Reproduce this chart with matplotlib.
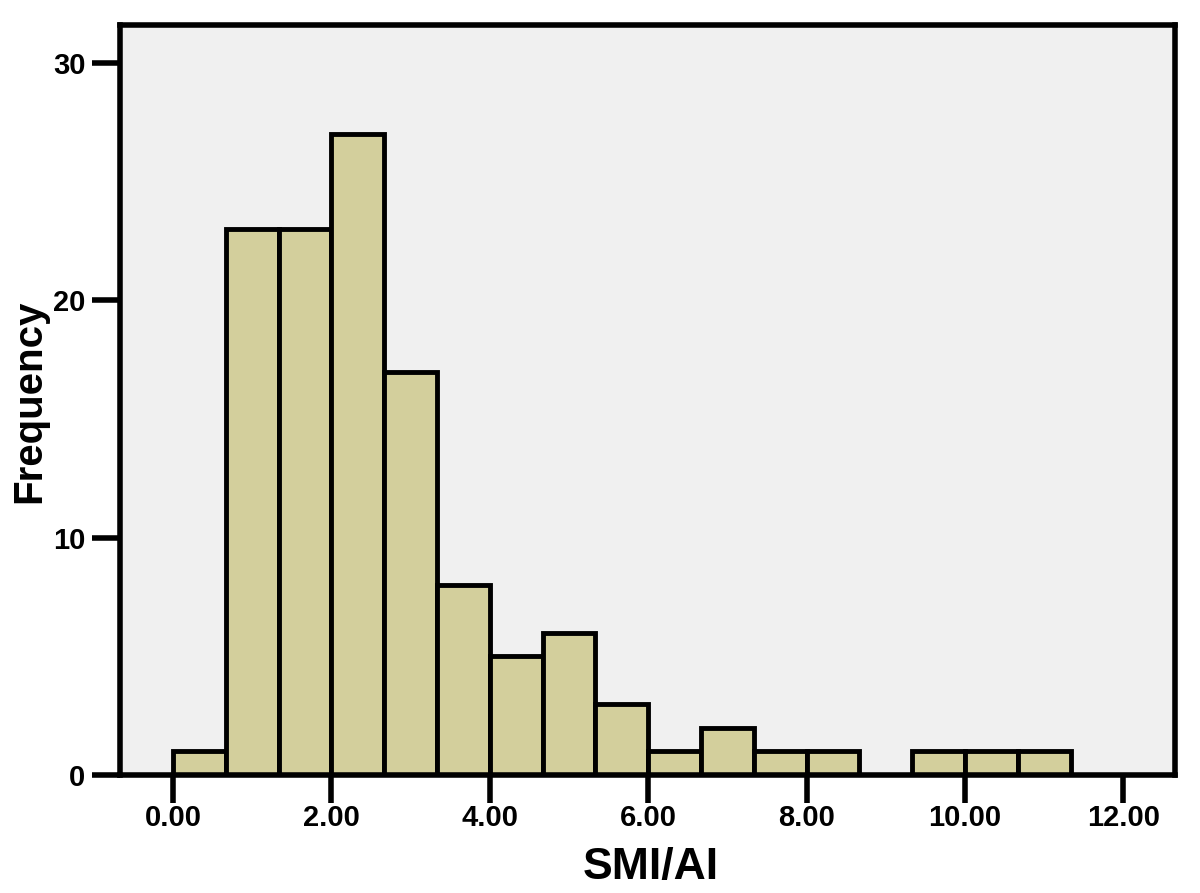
import matplotlib.pyplot as plt
import numpy as np

# histogram of SMI/AI, bin width 2/3
bin_start = 0.0
bin_width = 2.0 / 3.0
counts = [1, 23, 23, 27, 17, 8, 5, 6, 3, 1, 2, 1, 1, 0, 1, 1, 1]
x_ticks = [0, 2, 4, 6, 8, 10, 12]
x_labels = ['0.00', '2.00', '4.00', '6.00', '8.00', '10.00', '12.00']
y_ticks = [0, 10, 20, 30]

plt.rcParams['font.family'] = ['Liberation Sans', 'DejaVu Sans']
plt.rcParams['font.weight'] = 'bold'

fig = plt.figure(figsize=(12, 8.93), dpi=100)
ax = fig.add_axes([0.1, 0.132, 0.879, 0.84])
ax.set_facecolor('#f0f0f0')

lefts = bin_start + bin_width * np.arange(len(counts))
for l, c in zip(lefts, counts):
    if c > 0:
        ax.bar(l, c, width=bin_width, align='edge', color='#d3cf9c',
               edgecolor='black', linewidth=3.5, zorder=2)

ax.set_xlim(-0.67, 12.65)
ax.set_ylim(0, 31.6)
ax.set_xticks(x_ticks)
ax.set_xticklabels(x_labels)
ax.set_yticks(y_ticks)
ax.tick_params(direction='out', length=20, width=4, labelsize=21)
ax.tick_params(axis='x', pad=1)
ax.tick_params(axis='y', pad=5)
for s in ax.spines.values():
    s.set_linewidth(4)
    s.set_zorder(3)

ax.set_xlabel('SMI/AI', fontsize=32, fontweight='bold')
ax.set_ylabel('Frequency', fontsize=29, fontweight='bold')
ax.xaxis.set_label_coords(0.503, -0.096)
ax.yaxis.set_label_coords(-0.068, 0.499)

fig.savefig('out.png', dpi=100)
